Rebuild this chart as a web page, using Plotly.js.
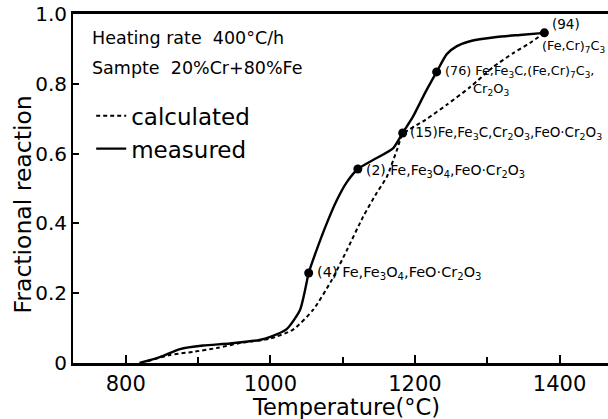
<!DOCTYPE html>
<html>
<head>
<meta charset="utf-8">
<script src="https://cdn.plot.ly/plotly-3.0.1.min.js"></script>
<style>html,body{margin:0;padding:0;background:#fff;}#chart{width:608px;height:419px;}</style>
</head>
<body>
<div id="chart"></div>
<script>
// ---- data ----
const measuredTemp = [819, 847, 875, 907, 944, 985, 1000, 1023, 1041, 1048, 1053, 1064, 1078, 1092, 1106, 1121, 1145, 1170, 1183, 1197, 1214, 1230, 1244, 1258, 1276, 1313, 1345, 1379];
const measuredFrac = [0, 0.017, 0.040, 0.050, 0.056, 0.066, 0.075, 0.098, 0.152, 0.209, 0.258, 0.324, 0.40, 0.467, 0.519, 0.556, 0.585, 0.616, 0.659, 0.705, 0.774, 0.834, 0.885, 0.908, 0.922, 0.934, 0.94, 0.946];

const calcTemp = [830, 861, 893, 926, 958, 990, 1000, 1031, 1059, 1085, 1106, 1128, 1147, 1161, 1175, 1183, 1214, 1244, 1276, 1308, 1336, 1359, 1379];
const calcFrac = [0.005, 0.023, 0.032, 0.043, 0.057, 0.066, 0.07, 0.095, 0.152, 0.238, 0.324, 0.418, 0.487, 0.533, 0.61, 0.655, 0.696, 0.74, 0.79, 0.848, 0.888, 0.917, 0.946];

const pointTemp = [1053, 1121, 1183, 1230, 1379];
const pointFrac = [0.258, 0.556, 0.659, 0.834, 0.946];
const pointLabels = [
  "(4) Fe,Fe<sub>3</sub>O<sub>4</sub>,FeO·Cr<sub>2</sub>O<sub>3</sub>",
  "(2) Fe,Fe<sub>3</sub>O<sub>4</sub>,FeO·Cr<sub>2</sub>O<sub>3</sub>",
  "(15)Fe,Fe<sub>3</sub>C,Cr<sub>2</sub>O<sub>3</sub>,FeO·Cr<sub>2</sub>O<sub>3</sub>",
  "(76) Fe,Fe<sub>3</sub>C,(Fe,Cr)<sub>7</sub>C<sub>3</sub>,",
  "(94)"
];
const extraLabels = ["Cr<sub>2</sub>O<sub>3</sub>", "(Fe,Cr)<sub>7</sub>C<sub>3</sub>"];
const extraLabelOf = [3, 4];

const yTickVals = [0, 0.2, 0.4, 0.6, 0.8, 1.0];
const yTickText = ["0", "0.2", "0.4", "0.6", "0.8", "1.0"];
const xTickVals = [800, 1000, 1200, 1400];
const xMinorVals = [900, 1100, 1300];

const infoLines = ["Heating rate  400°C/h", "Sampte  20%Cr+80%Fe"];
const xTitle = "Temperature(°C)";
const yTitle = "Fractional reaction";

// ---- presentation ----
const FONT = "DejaVu Sans, sans-serif";
const labelShift = [[6, 0], [6, -2], [5, 0], [6, 0], [6, 9]];
const labelSize = [14.5, 14, 13.5, 12.8, 13.5];
const extraShift = [[34, -18], [-4, -14]];
const extraSize = [13, 12.8];
const infoPos = [[0.032, 0.931], [0.032, 0.845]];

const traces = [
  {x: calcTemp, y: calcFrac, type: 'scatter', mode: 'lines', name: 'calculated',
   line: {color: '#000', width: 2, dash: '4px,3px', shape: 'spline', smoothing: 0.6}},
  {x: measuredTemp, y: measuredFrac, type: 'scatter', mode: 'lines', name: 'measured',
   line: {color: '#000', width: 2.4, shape: 'spline', smoothing: 0.6}},
  {x: pointTemp, y: pointFrac, type: 'scatter', mode: 'markers', showlegend: false,
   marker: {color: '#000', size: 9}}
];

const annotations = pointLabels.map((t, i) => ({
  x: pointTemp[i], y: pointFrac[i], xref: 'x', yref: 'y', text: t, showarrow: false,
  xanchor: 'left', yanchor: 'middle', xshift: labelShift[i][0], yshift: labelShift[i][1],
  font: {family: FONT, size: labelSize[i], color: '#000'}
}));
extraLabels.forEach((t, k) => {
  const i = extraLabelOf[k];
  annotations.push({x: pointTemp[i], y: pointFrac[i], xref: 'x', yref: 'y', text: t, showarrow: false,
    xanchor: 'left', yanchor: 'middle', xshift: extraShift[k][0], yshift: extraShift[k][1],
    font: {family: FONT, size: extraSize[k], color: '#000'}});
});
infoLines.forEach((t, k) => {
  annotations.push({x: infoPos[k][0], y: infoPos[k][1], xref: 'paper', yref: 'paper', text: t,
    showarrow: false, xanchor: 'left', yanchor: 'middle', font: {family: FONT, size: 17.5, color: '#000'}});
});
annotations.push({x: -0.093, y: 0.455, xref: 'paper', yref: 'paper', text: yTitle, textangle: -90,
  showarrow: false, xanchor: 'center', yanchor: 'middle', font: {family: FONT, size: 23.5, color: '#000'}});
annotations.push({x: 0.51, y: 0, xref: 'paper', yref: 'paper', yshift: -44, text: xTitle,
  showarrow: false, xanchor: 'center', yanchor: 'middle', font: {family: FONT, size: 22.5, color: '#000'}});

const layout = {
  width: 608, height: 419,
  margin: {l: 73, r: 0, t: 14, b: 56},
  paper_bgcolor: '#fff', plot_bgcolor: '#fff',
  font: {family: FONT, color: '#000'},
  showlegend: true,
  legend: {x: 0.034, y: 0.77, xanchor: 'left', yanchor: 'top', bgcolor: 'rgba(0,0,0,0)',
    font: {family: FONT, size: 23, color: '#000'}, tracegroupgap: 0, traceorder: 'normal'},
  xaxis: {range: [727, 1467], tickvals: xTickVals, ticks: 'inside', ticklen: 8, tickwidth: 2,
    tickcolor: '#000', showline: true, linecolor: '#000', linewidth: 3, mirror: true,
    showgrid: false, zeroline: false,
    minor: {tickvals: xMinorVals, ticks: 'inside', ticklen: 6, tickwidth: 2, tickcolor: '#000'},
    tickfont: {family: FONT, size: 21, color: '#000'}},
  yaxis: {range: [0, 1.0], tickvals: yTickVals, ticktext: yTickText, ticks: 'inside', ticklen: 6,
    tickwidth: 2, tickcolor: '#000', showline: true, linecolor: '#000', linewidth: 2,
    showgrid: false, zeroline: false, ticklabelstandoff: 0,
    tickfont: {family: FONT, size: 20, color: '#000'}},
  annotations: annotations
};

Plotly.newPlot('chart', traces, layout, {displayModeBar: false, staticPlot: true});
</script>
</body>
</html>
